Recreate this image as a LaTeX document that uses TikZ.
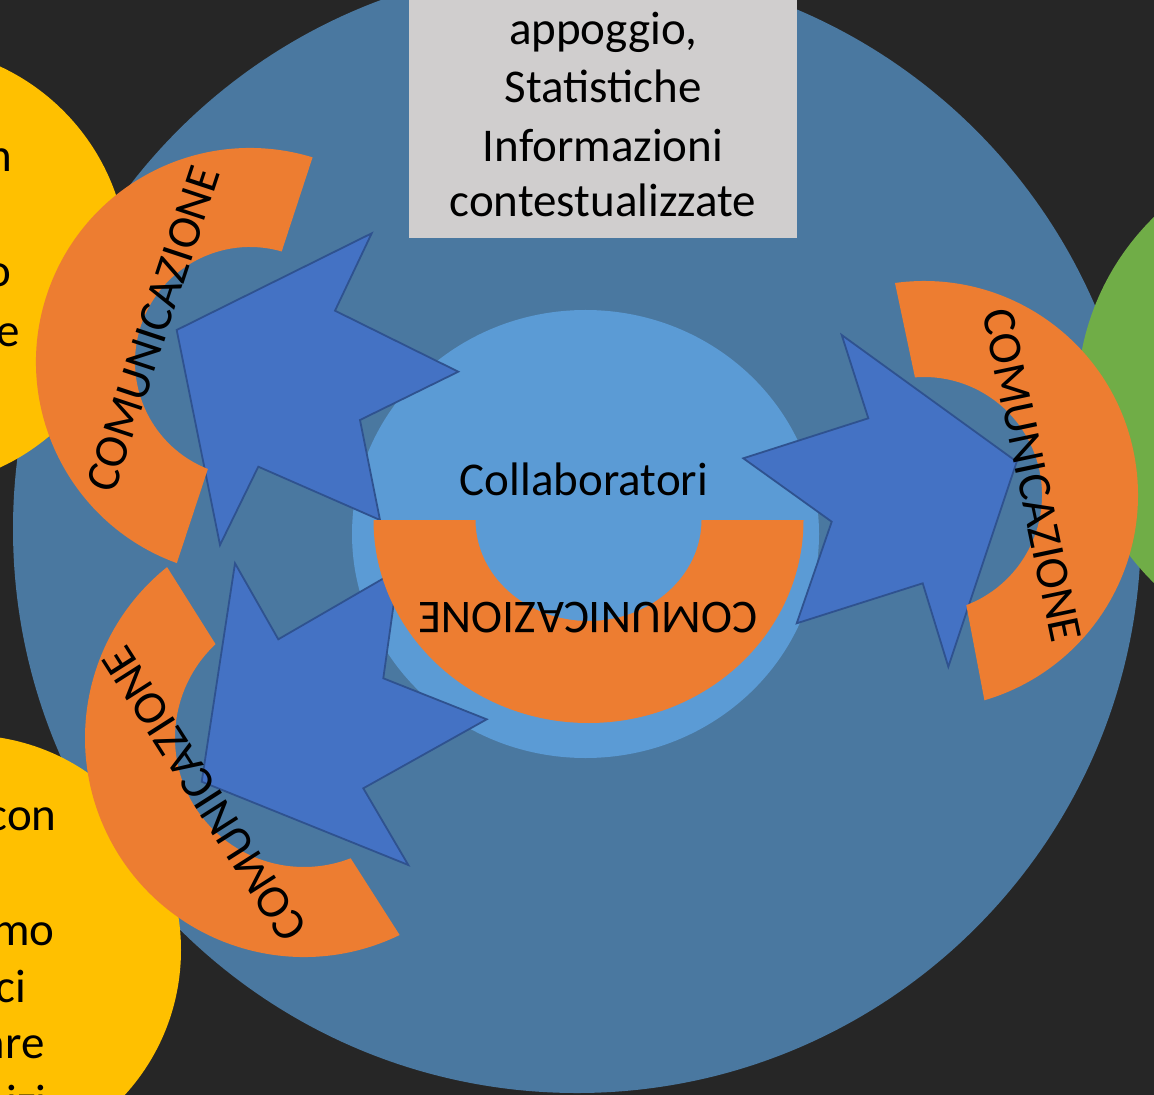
\documentclass[tikz,border=0pt]{standalone}
\usepackage{fontspec}
\setmainfont{Carlito}
\usetikzlibrary{calc}
\definecolor{bgDark}{HTML}{262626}
\definecolor{outerBlue}{HTML}{4A78A0}
\definecolor{innerBlue}{HTML}{5B9BD5}
\definecolor{arrowBlue}{HTML}{4472C4}
\definecolor{arrowLine}{HTML}{2F528F}
\definecolor{commOrange}{HTML}{ED7D31}
\definecolor{sideYellow}{HTML}{FFC000}
\definecolor{sideGreen}{HTML}{70AD47}
\definecolor{boxGray}{HTML}{D0CECE}

\begin{document}
\begin{tikzpicture}[
  x=0.5pt, y=-0.5pt,
  every node/.style={inner sep=0pt, font=\fontsize{23.5}{28.6}\selectfont},
  arrowshape/.style={fill=arrowBlue, draw=arrowLine, line width=0.9pt, line join=miter},
  commring/.style={fill=commOrange},
  commtext/.style={anchor=center},
  boxtext/.style={anchor=base},
  fragtext/.style={anchor=base east}
]
\useasboundingbox (0,0) rectangle (1154,1095);
\clip (0,0) rectangle (1154,1095);
\fill[bgDark] (0,0) rectangle (1154,1095);

% circles
\fill[outerBlue] (577,529) circle[radius=564];
\fill[sideYellow] (-93,267) circle[radius=221];
\fill[sideYellow] (-34,950) circle[radius=215];
\fill[sideGreen] (1333,400) circle[radius=256];
\fill[innerBlue] (585.5,534) ellipse[x radius=233.5, y radius=224];

% blue arrows
\draw[arrowshape] (176.7,330) -- (371.7,233.3) -- (335,310.7) -- (458.3,371.7) -- (360,420)
  -- (380,520) -- (258.3,466.7) -- (220,545) -- cycle;
\draw[arrowshape] (1016.7,461.7) -- (948.3,666.7) -- (922.7,583.3) -- (796.7,623.3) -- (831.7,521.7)
  -- (743.3,458.3) -- (868.3,418.3) -- (841.7,335) -- cycle;
\draw[arrowshape] (201.7,781.7) -- (235,563.3) -- (278.3,639.3) -- (398.5,569.7) -- (383.3,678.3)
  -- (486.7,719.3) -- (363.3,788.3) -- (408.3,865) -- cycle;

% orange block arcs
\coordinate (tlc) at (250,362);
\coordinate (rc) at (924,495);
\coordinate (blc) at (304,738);
\coordinate (bc) at (588.5,520);
\fill[commring] ($(tlc)+(110:214)$) arc[start angle=110, end angle=287, radius=214]
  -- ($(tlc)+(286:115)$) arc[start angle=286, end angle=111.5, radius=115] -- cycle;
\fill[commring] ($(rc)+(-97.8:214)$) arc[start angle=-97.8, end angle=73.6, radius=214]
  -- ($(rc)+(69:118)$) arc[start angle=69, end angle=-94.4, radius=118] -- cycle;
\fill[commring] ($(blc)+(64.1:219)$) arc[start angle=64.1, end angle=231.3, radius=219]
  -- ($(blc)+(226.7:129)$) arc[start angle=226.7, end angle=68.8, radius=129] -- cycle;
\fill[commring] ($(bc)+(-215,0)$) arc[start angle=180, end angle=0, x radius=215, y radius=203]
  -- ($(bc)+(113,0)$) arc[start angle=0, end angle=180, x radius=113, y radius=101] -- cycle;

% grey box
\fill[boxGray] (409,-10) rectangle (797,238);
\node[boxtext] (lineA) at (603,45) {appoggio,};
\node[boxtext] (lineB) at (603,103) {Statistiche};
\node[boxtext] (lineC) at (603,162) {Informazioni};
\node[boxtext] (lineD) at (603,217) {contestualizzate};

% labels
\node[boxtext] (collab) at (584,495) {Collaboratori};
\node[commtext, rotate=71.7] (commTL) at (153,329) {COMUNICAZIONE};
\node[commtext, rotate=-78.1] (commR) at (1032,475.5) {COMUNICAZIONE};
\node[commtext, rotate=122.5] (commBL) at (204.5,793.7) {COMUNICAZIONE};
\node[commtext, rotate=180] (commB) at (588,617.5) {COMUNICAZIONE};

% cut text in the yellow circles
\node[fragtext] (fragA) at (13,172) {n};
\node[fragtext] (fragB) at (12,287) {o};
\node[fragtext] (fragC) at (20,347) {e};
\node[fragtext] (fragD) at (57,830) {con};
\node[fragtext] (fragE) at (55,945) {mo};
\node[fragtext] (fragF) at (27,1002) {ci};
\node[fragtext] (fragG) at (45,1058) {are};
\node[fragtext] (fragH) at (47,1117) {izi};
\end{tikzpicture}
\end{document}
